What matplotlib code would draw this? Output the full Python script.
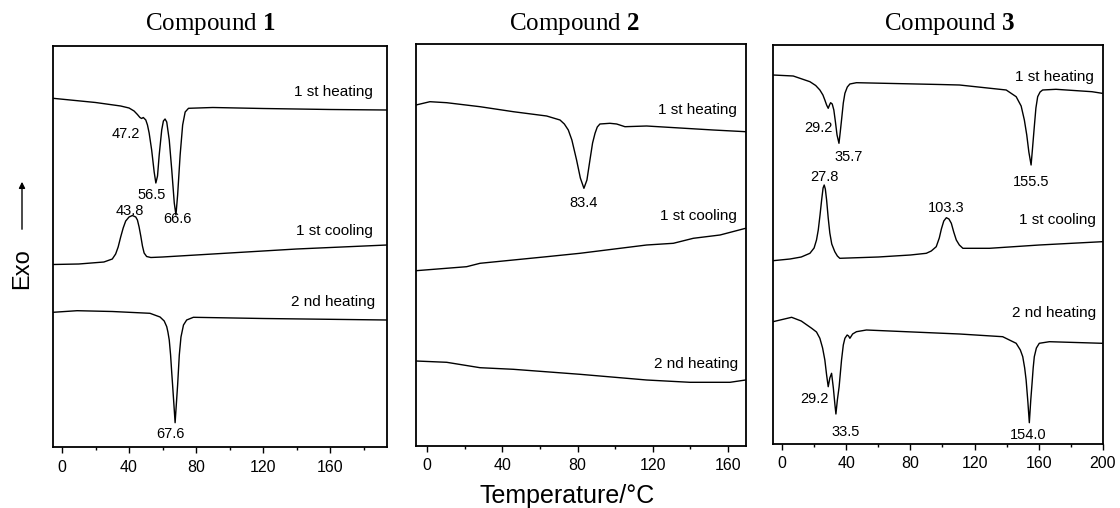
import numpy as np
import matplotlib
matplotlib.use("Agg")
import matplotlib.pyplot as plt
from matplotlib.ticker import MultipleLocator

plt.rcParams['font.family'] = ['Liberation Sans', 'DejaVu Sans']
plt.rcParams['mathtext.fontset'] = 'custom'
plt.rcParams['mathtext.rm'] = 'Liberation Serif'
plt.rcParams['mathtext.bf'] = 'Liberation Serif:bold'

# DSC traces: temperature (C) and signal depth (a.u., endo = larger)
c1_heat1_T = [-5.4, 20, 35, 40, 43, 45, 46.5, 47.5, 48.5, 50, 51, 52, 53.5, 55, 56, 57, 58, 59.5,
              60.5, 61.5, 62.5, 64, 65.5, 67, 68, 69, 70.5, 72, 73.5, 75.5, 90, 120, 160, 194]
c1_heat1_y = [98.3, 102.5, 106, 108, 111, 114.5, 117.5, 118.5, 117.5, 120, 125, 133, 150, 172, 183,
              176, 155, 130, 121, 119, 122, 140, 170, 203, 215, 195, 155, 125, 112, 108.3, 107.5,
              108.5, 109.5, 110]
c1_cool1_T = [-5.4, 10, 25, 30, 32, 33.5, 35, 36.5, 38, 40, 42, 44, 45, 46, 47, 48, 49, 50.5, 53,
              60, 100, 140, 194]
c1_cool1_y = [264.5, 264, 262, 259, 254, 247, 237, 228, 221, 217, 215.5, 217, 220, 227, 236, 246,
              253, 256.5, 257.5, 257, 253, 249, 245]
c1_heat2_T = [-5.4, 9, 30, 52.5, 58.5, 61, 62.5, 63.2, 64, 64.8, 65.5, 66, 67, 67.5, 68, 69, 70,
              71, 72.5, 74.4, 78.4, 120, 194]
c1_heat2_y = [312.3, 310.7, 311.5, 313.3, 317, 321, 326.7, 332, 340, 355, 373, 385, 410, 422.7,
              410, 385, 355, 337, 325, 320, 317.3, 318.5, 320]

c2_heat1_T = [-5.8, 1.6, 10.5, 28.2, 45.9, 63.6, 70.7, 73, 75.1, 77, 79.5, 81.5, 83.4, 85, 86.6,
              88, 89.3, 90.5, 91.9, 97.2, 100.8, 105.2, 116.7, 152.1, 169.3]
c2_heat1_y = [105, 101.7, 102.7, 106.7, 111.7, 116, 120, 124, 130, 140, 160, 178, 188.3, 180, 160,
              143, 133.3, 127, 124, 123.3, 124, 126.7, 126, 130, 131.7]
c2_cool1_T = [-5.8, 21.1, 28.2, 63.6, 81.3, 116.7, 130.9, 141.5, 155.7, 169.3]
c2_cool1_y = [270.7, 266.7, 263.3, 256.7, 253.3, 245, 243.3, 238.3, 235, 228.3]
c2_heat2_T = [-5.8, 10.5, 28.2, 45.9, 81.3, 116.7, 139.7, 161, 169.3]
c2_heat2_y = [361, 362.3, 367.7, 369.3, 374.3, 380, 382.3, 382.3, 380]

c3_heat1_T = [-5.6, 7, 17.4, 21, 23.6, 25.5, 26.7, 27.8, 28.8, 29.6, 30.3, 31.3, 32.3, 33.3, 34.3,
              35.5, 36.3, 37.1, 38.2, 39.2, 40.7, 42.3, 46.4, 98.2, 110.6, 139.7, 145.9, 149, 151,
              152.5, 153.8, 155.2, 156, 157.2, 158.2, 159.3, 160.8, 162.4, 170.7, 193.1, 199.5]
c3_heat1_y = [75, 76, 81.7, 85.5, 90, 95, 100, 105, 108.3, 105, 102.7, 104, 110, 122, 135, 143.3,
              132, 120, 103, 93.3, 87, 84, 82.7, 84.5, 85, 90, 96.7, 106, 120, 135, 152, 165, 150,
              126.7, 108, 96.7, 92, 90, 89.3, 91.7, 93.3]
c3_cool1_T = [-5.6, 5, 12, 17.4, 20, 21.5, 22.6, 23.7, 24.7, 25.6, 26.3, 27, 27.8, 28.8, 29.8, 31,
              32.9, 34.5, 36, 60, 80, 89.9, 93, 96.1, 98, 99.3, 100.8, 102.4, 104, 105.5, 107,
              108.6, 110.5, 112.7, 129.3, 160.3, 199.5]
c3_cool1_y = [260.7, 259, 257, 253.3, 248, 240, 230, 215, 200, 188, 185, 189, 200, 218, 233, 244,
              251.7, 256, 258.3, 257, 255, 253.3, 251, 246.7, 238, 229, 221, 217.7, 219, 223.3,
              232, 240, 245, 248.3, 248.3, 245, 241.7]
c3_heat2_T = [-5.6, 6, 12, 18.5, 21.5, 23.6, 25.3, 26.7, 27.8, 28.8, 29.8, 30.9, 32, 33, 33.6, 34.5,
              35.6, 37.1, 38.2, 39.2, 40.6, 41.5, 42.3, 44, 46.4, 52.6, 110.6, 137.5, 145.9, 148.5,
              150, 151.2, 152.1, 153.2, 154.1, 155, 155.8, 156.5, 157.2, 158.5, 160.3, 166.6, 199.5]
c3_heat2_y = [321.7, 317.3, 321, 328.3, 332, 338.3, 348, 360, 375, 386.7, 378, 373.3, 388, 405,
              414, 400, 386.7, 360, 345, 338.3, 335, 336, 338.3, 334, 331.7, 330, 334, 336.7,
              343.3, 350, 356.7, 368, 380, 402, 422.7, 400, 383.3, 368, 356.7, 348, 343.3, 341.7,
              343.3]

# peak labels: text, temperature, depth
c1_peaks = [("47.2", 38.2, 134), ("56.5", 53.5, 195), ("66.6", 68.7, 219),
            ("43.8", 40.3, 211), ("67.6", 64.9, 434)]
c2_peaks = [("83.4", 83.4, 203)]
c3_peaks = [("29.2", 22.6, 128), ("35.7", 41.8, 157), ("155.5", 155.2, 182),
            ("27.8", 26.7, 177), ("103.3", 102.4, 208), ("29.2", 20.5, 399),
            ("33.5", 39.8, 432), ("154.0", 153.1, 435)]

run_names = ["1 st heating", "1 st cooling", "2 nd heating"]

W, H = 1120, 508
fig = plt.figure(figsize=(W / 100, H / 100), dpi=100)


def px_rect(l, r, t, b):
    return [l / W, 1 - b / H, (r - l) / W, (b - t) / H]


panels = [
    dict(rect=px_rect(53, 387, 46, 447), xlim=(-5.4, 194), ylim=(447, 46), ticks=[0, 40, 80, 120, 160],
         curves=[(c1_heat1_T, c1_heat1_y), (c1_cool1_T, c1_cool1_y), (c1_heat2_T, c1_heat2_y)],
         names=[(185.7, 92), (185.7, 231), (186.9, 302)], peaks=c1_peaks,
         title=r"Compound $\mathbf{1}$", tx=210),
    dict(rect=px_rect(416, 746, 44, 446), xlim=(-5.8, 169.5), ylim=(446, 44), ticks=[0, 40, 80, 120, 160],
         curves=[(c2_heat1_T, c2_heat1_y), (c2_cool1_T, c2_cool1_y), (c2_heat2_T, c2_heat2_y)],
         names=[(164.9, 110), (164.9, 216), (165.4, 364)], peaks=c2_peaks,
         title=r"Compound $\mathbf{2}$", tx=574),
    dict(rect=px_rect(773, 1103, 45, 444), xlim=(-5.6, 199.5), ylim=(444, 45),
         ticks=[0, 40, 80, 120, 160, 200],
         curves=[(c3_heat1_T, c3_heat1_y), (c3_cool1_T, c3_cool1_y), (c3_heat2_T, c3_heat2_y)],
         names=[(194.5, 77), (195.6, 220), (195.6, 313)], peaks=c3_peaks,
         title=r"Compound $\mathbf{3}$", tx=950),
]

for p in panels:
    ax = fig.add_axes(p["rect"])
    for T, y in p["curves"]:
        ax.plot(T, y, color="black", lw=1.0)
    for name, (nx, ny) in zip(run_names, p["names"]):
        ax.text(nx, ny, name, ha="right", va="center", fontsize=11)
    for lab, px_, py_ in p["peaks"]:
        ax.text(px_, py_, lab, ha="center", va="center", fontsize=10.5)
    ax.set_xlim(*p["xlim"])
    ax.set_ylim(*p["ylim"])
    ax.set_xticks(p["ticks"])
    ax.xaxis.set_minor_locator(MultipleLocator(20))
    ax.set_yticks([])
    ax.tick_params(axis="x", which="major", direction="out", length=4, width=1, labelsize=11.5, pad=5)
    ax.tick_params(axis="x", which="minor", direction="out", length=2.5, width=1)
    for s in ax.spines.values():
        s.set_linewidth(1.3)
    fig.text(p["tx"] / W, 1 - 24 / H, p["title"], ha="center", va="center", fontsize=18,
             family="Liberation Serif")

fig.text(567 / W, 1 - 496 / H, "Temperature/°C", ha="center", va="center", fontsize=18)
fig.text(22 / W, 1 - 269 / H, "Exo", ha="center", va="center", rotation=90, fontsize=17)
fig.add_artist(matplotlib.patches.FancyArrowPatch(
    (22 / W, 1 - 232 / H), (22 / W, 1 - 179 / H), transform=fig.transFigure,
    arrowstyle="-|>", mutation_scale=9, lw=1.0, color="black"))

plt.savefig("out.png", dpi=100)
